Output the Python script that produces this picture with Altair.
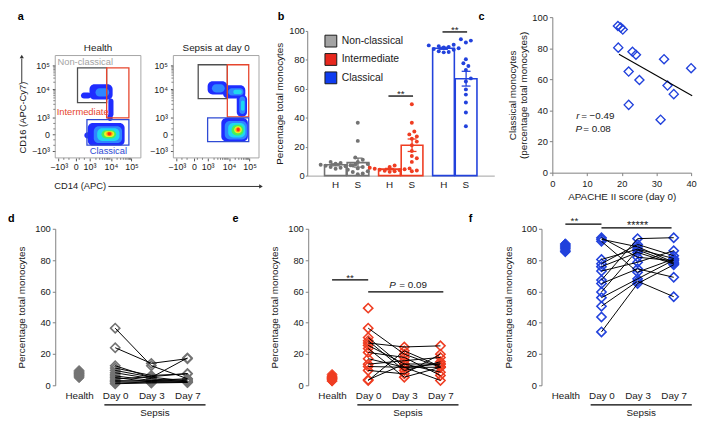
import json
import math
import altair as alt
import pandas as pd

FONT = "Liberation Sans"
TXT = "#1a1a1a"
AXC = "#808080"
GRAY = "#737373"
RED = "#ef3d22"
BLUE = "#2242dc"

groups = ["Non-classical", "Intermediate", "Classical"]
group_colors = [GRAY, RED, BLUE]
legend_colors = ["#a3a3a3", "#e8281e", "#0f3cf0"]

# ---------------- panel a (flow cytometry, biexponential display units 0-100)
flow_tick_labels = ["−10³", "0", "10³", "10⁴", "10⁵"]
flow_x_ticks = [4, 24, 40, 65, 89]
flow_y_ticks = [7, 23, 39, 67, 90]
density_colors = ["#1f2dff", "#2f86ff", "#1fd8f0", "#46f05a", "#eef222", "#ff9a12", "#ff2b12"]
# (density level, x1, x2, y1, y2)
health_blobs = [
    (0, 30, 42, 58, 64), (0, 40, 67, 57, 72), (0, 62, 68, 40, 58), (0, 61, 67, 36, 43),
    (1, 47, 63, 60, 68),
    (0, 38, 81, 12, 34), (0, 34, 41, 19, 25), (1, 45, 78, 14.5, 31), (2, 49, 75, 16.5, 29),
    (3, 54, 71, 19, 27), (4, 57, 69, 20.5, 26), (5, 59.5, 67, 21.5, 25.5), (6, 61, 65.5, 22, 25),
]
sepsis_blobs = [
    (0, 40, 63, 62, 75), (0, 58, 84, 58, 71), (0, 74, 86, 40, 62),
    (1, 45, 60, 64, 72), (1, 64, 82, 61, 68), (1, 77, 84, 43, 60),
    (2, 70, 80, 62.5, 66.5), (2, 79, 83, 46, 56),
    (0, 56, 87, 16, 39), (1, 60, 86, 18, 36), (2, 64, 84, 20, 34), (3, 68, 82, 22, 32.5),
    (4, 71, 80, 24, 31), (5, 72.5, 78.5, 25, 30), (6, 74, 77.5, 26, 29.5),
]
# gate rectangles (x1, x2, y1, y2) for Non-classical, Intermediate, Classical
health_gates = [(26, 60, 54, 88), (60, 86, 39, 88), (37, 86, 12.5, 37.5)]
sepsis_gates = [(29, 63, 58, 91), (63, 88, 40, 91), (40, 88, 16, 39)]
gate_colors = ["#4f4f4f", "#e6452d", "#2f4bd4"]
gate_label_pos = [(35, 94), (32, 45), (62, 7)]
gate_label_colors = ["#a3a3a3", "#e6452d", "#2f4bd4"]

# ---------------- panel b
health_nc = [9.5, 8.8, 8.2, 7.8, 7.5, 7.2, 6.8, 6.4, 6.0, 5.5, 4.8]
health_int = [7.0, 6.0, 5.5, 5.0, 4.7, 4.4, 4.1, 3.8, 3.4, 3.0, 2.6]
health_cl = [90.5, 90.0, 89.5, 89.0, 88.5, 88.0, 87.5, 87.0, 86.0, 85.5, 85.2]
sepsis_nc_d0 = [36.5, 24, 12.5, 11, 9.5, 8, 7, 6, 5, 4, 3, 2.5, 1.5, 1]
sepsis_int_d0 = [49.3, 36.5, 30.5, 28.5, 27, 25.5, 23.5, 21, 17, 13.5, 12, 9.5, 3.5, 3]
sepsis_cl_d0 = [94.3, 93.3, 92, 80.4, 77.7, 75.8, 73, 67.2, 65, 59.6, 56, 50.5, 43.6, 34.1]
bar_mean_h = [7.5, 4.5, 88.0]
bar_mean_s = [9.0, 21.0, 67.0]
bar_sem_h = [0.7, 0.5, 0.7]
bar_sem_s = [3.1, 4.3, 5.1]
sig_b_groups = ["Intermediate", "Classical"]
sig_b_y = [55.0, 99.3]

# ---------------- panel c
apache = [18.9, 19.7, 20.3, 19.0, 23.1, 24.1, 32.2, 40.0, 22.0, 25.1, 33.2, 35.0, 22.0, 31.2]
fit_x = [19.2, 40.3]
fit_y = [76.2, 49.5]

# ---------------- panels d, e, f (per patient: day 0, day 3, day 7)
days = ["Health", "Day 0", "Day 3", "Day 7"]
nc_d3 = [12.5, 14, 5, 6.3, 5.2, 4.2, None, 3.1, 2.1, 5.5, 2.5, 3.0, 2.0, 1.5]
nc_d7 = [4.2, 17, 17.5, 7.3, 2.7, 2.1, None, 4.2, 2.1, 7.5, 2.7, 3.5, 2.0, 1.8]
int_d3 = [None, 19.9, 11.5, 9.4, 24.5, 13.6, 5.2, 17.8, 11.5, 15.7, 11.5, 7.3, 13.6, 22]
int_d7 = [None, 11.5, 13.6, 15, 25.2, 8.4, 11.5, 6.3, 3.1, 17.8, 11.5, 19.9, 13.6, 12]
cl_d3 = [81.8, 88.5, 72.3, 87, 90, 84.9, 78.6, 93.7, 74.4, 86.5, 68, 66.5, None, 65]
cl_d7 = [79.6, 78.6, 80.7, 81, 82.8, 77.5, 86, 94.3, 69, 78, 80, 56.6, None, 77]

RES = dict(fill="independent", stroke="independent", color="independent")


def lbl_expr(positions):
    parts = " : ".join(f"datum.value == {p} ? '{l}'" for p, l in zip(positions, flow_tick_labels))
    return parts + " : ''"


def minor_positions(ticks):
    # linear part between -10^3 and 10^3, log decades above
    pos = [ticks[0] + (ticks[2] - ticks[0]) * k / 6 for k in (1, 2, 4, 5)]
    for lo, hi in ((ticks[2], ticks[3]), (ticks[3], ticks[4])):
        pos += [lo + (hi - lo) * math.log10(k) for k in range(2, 10)]
    return pos


def letter(ch, dx, dy):
    return alt.Chart(pd.DataFrame({"t": [ch]})).mark_text(
        align="left", baseline="top", fontWeight="bold", fontSize=11, color="black"
    ).encode(x=alt.value(dx), y=alt.value(dy), text="t:N")


def vtext(t, x, y, **kw):
    return alt.Chart(pd.DataFrame({"t": [t]})).mark_text(**kw).encode(
        x=alt.value(x), y=alt.value(y), text="t:N")


# ================= panel a
def flow_panel(blobs, gates, title, width, annotate):
    xs = alt.Scale(domain=[0, 100], range=[0, 87])
    ys = alt.Scale(domain=[0, 100], range=[143, 39])
    xax = alt.Axis(values=flow_x_ticks, labelExpr=lbl_expr(flow_x_ticks), title=None,
                   domain=False, tickSize=3, tickColor="#555", labelPadding=2, labelFontSize=9)
    yax = alt.Axis(values=flow_y_ticks, labelExpr=lbl_expr(flow_y_ticks), title=None,
                   domain=False, tickSize=3, tickColor="#555", labelPadding=3, labelFontSize=9)
    X = lambda f: alt.X(f, type="quantitative", scale=xs, axis=xax)
    Y = lambda f: alt.Y(f, type="quantitative", scale=ys, axis=yax)

    dens = pd.DataFrame(blobs, columns=["lvl", "x1", "x2", "y1", "y2"]).sort_values("lvl", kind="stable")
    layers = [alt.Chart(dens).mark_rect(cornerRadius=5).encode(
        x=X("x1"), x2="x2", y=Y("y1"), y2="y2",
        fill=alt.Fill("lvl:O", scale=alt.Scale(domain=list(range(7)), range=density_colors), legend=None))]

    g = pd.DataFrame([(n,) + t for n, t in zip(groups, gates)], columns=["gate", "x1", "x2", "y1", "y2"])
    layers.append(alt.Chart(g).mark_rect(fillOpacity=0, strokeWidth=1.3).encode(
        x=X("x1"), x2="x2", y=Y("y1"), y2="y2",
        stroke=alt.Stroke("gate:N", scale=alt.Scale(domain=groups, range=gate_colors), legend=None)))

    fr = pd.DataFrame({"x1": [0], "x2": [100], "y1": [0], "y2": [100]})
    layers.append(alt.Chart(fr).mark_rect(fillOpacity=0, stroke="#a5a5a5", strokeWidth=1).encode(
        x=X("x1"), x2="x2", y=Y("y1"), y2="y2"))

    # minor ticks of the biexponential axes
    mx = pd.DataFrame({"p": minor_positions(flow_x_ticks)})
    my = pd.DataFrame({"p": minor_positions(flow_y_ticks)})
    layers.append(alt.Chart(mx).mark_rule(color="#666", strokeWidth=0.8).encode(
        x=X("p"), y=alt.value(143), y2=alt.value(145)))
    layers.append(alt.Chart(my).mark_rule(color="#666", strokeWidth=0.8).encode(
        y=Y("p"), x=alt.value(-2), x2=alt.value(0)))

    layers.append(alt.Chart(pd.DataFrame({"x": [50], "y": [107], "t": [title]})).mark_text(
        fontSize=10, baseline="middle").encode(x=X("x"), y=Y("y"), text="t:N"))

    if annotate:
        gl = pd.DataFrame({"gate": groups, "x": [p[0] for p in gate_label_pos],
                           "y": [p[1] for p in gate_label_pos]})
        layers.append(alt.Chart(gl).mark_text(fontSize=9.5, baseline="middle").encode(
            x=X("x"), y=Y("y"), text="gate:N",
            color=alt.Color("gate:N", scale=alt.Scale(domain=groups, range=gate_label_colors), legend=None)))
        layers.append(vtext("CD14 (APC)", -1, 172, align="left", baseline="middle", fontSize=9.5))
        layers.append(alt.Chart(pd.DataFrame({"a": [0]})).mark_rule(color="#333", strokeWidth=1).encode(
            x=alt.value(54), x2=alt.value(208), y=alt.value(172)))
        layers.append(alt.Chart(pd.DataFrame({"a": [0]})).mark_point(
            shape="triangle-right", filled=True, size=18, color="#333", opacity=1).encode(
            x=alt.value(209), y=alt.value(172)))
        layers.append(vtext("CD16 (APC-Cy7)", -33, 102, angle=270, align="center",
                            baseline="middle", fontSize=9.5))
        layers.append(alt.Chart(pd.DataFrame({"a": [0]})).mark_rule(color="#333", strokeWidth=1).encode(
            x=alt.value(-34), y=alt.value(67), y2=alt.value(42)))
        layers.append(alt.Chart(pd.DataFrame({"a": [0]})).mark_point(
            shape="triangle-up", filled=True, size=18, color="#333", opacity=1).encode(
            x=alt.value(-34), y=alt.value(40)))
        layers.append(letter("a", -38, -6))
    return alt.layer(*layers).resolve_scale(**RES).properties(width=width, height=143)


a1 = flow_panel(health_blobs, health_gates, "Health", 87, True)
a2 = flow_panel(sepsis_blobs, sepsis_gates, "Sepsis at day 0", 103, False)

# ================= panel b
B_W, B_H = 216, 161
b_range = [0, 190]
b_pi, b_po = 0.18, 0.32
b_step = b_range[1] / (3 - b_pi + 2 * b_po)
b_bw = b_step * (1 - b_pi)

bx = alt.Scale(domain=groups, range=b_range, paddingInner=b_pi, paddingOuter=b_po)
by = alt.Scale(domain=[0, 100], range=[B_H, 14])
bxax = alt.Axis(labels=False, ticks=False, title=None, domainColor="#a0a0a0")
byax = alt.Axis(values=[0, 20, 40, 60, 80, 100], title="Percentage total monocytes",
                tickSize=2, labelPadding=1, titlePadding=4)
BX = alt.X("group:N", scale=bx, axis=bxax, sort=groups)
BY = lambda f: alt.Y(f, type="quantitative", scale=by, axis=byax)
XO = alt.XOffset("hs:N", scale=alt.Scale(domain=["H", "S"], paddingInner=0.04))
stroke_scale = alt.Scale(domain=groups, range=group_colors)

bar_rows = []
for i, g in enumerate(groups):
    for hs, m, s in (("H", bar_mean_h[i], bar_sem_h[i]), ("S", bar_mean_s[i], bar_sem_s[i])):
        bar_rows.append({"group": g, "hs": hs, "mean": m, "lo": m - s, "hi": m + s})
df_bars = pd.DataFrame(bar_rows)
df_caps = pd.concat([df_bars.assign(v=df_bars["lo"]), df_bars.assign(v=df_bars["hi"])])


def swarm(vals, px_per_unit=1.47, d=4.6):
    placed, res = [], [0.0] * len(vals)
    cands = [0] + [s * k for k in range(1, 12) for s in (1, -1)]
    for i in sorted(range(len(vals)), key=lambda k: vals[k]):
        y = vals[i] * px_per_unit
        for c in cands:
            x = c * d * 0.55
            if all((x - px) ** 2 + (y - py) ** 2 >= d * d for px, py in placed):
                break
        placed.append((x, y))
        res[i] = x
    return res


dot_rows = []
for g, hv, sv in zip(groups, [health_nc, health_int, health_cl], [sepsis_nc_d0, sepsis_int_d0, sepsis_cl_d0]):
    for hs, vals, c in (("H", hv, -0.5), ("S", sv, 0.5)):
        for v, o in zip(vals, swarm(vals)):
            dot_rows.append({"group": g, "subset": g, "val": v, "off": c + o / (b_bw / 2)})
df_dots = pd.DataFrame(dot_rows)

b_bars = alt.Chart(df_bars).mark_bar(fill="white", strokeWidth=1.6).encode(
    x=BX, xOffset=XO, y=BY("mean"), stroke=alt.Stroke("group:N", scale=stroke_scale, legend=None))
b_err = alt.Chart(df_bars).mark_rule(strokeWidth=1.3).encode(
    x=BX, xOffset=XO, y=BY("lo"), y2="hi", stroke=alt.Stroke("group:N", scale=stroke_scale, legend=None))
b_caps = alt.Chart(df_caps).mark_tick(orient="horizontal", size=9, thickness=1.3, opacity=1).encode(
    x=BX, xOffset=XO, y=BY("v"), color=alt.Color("group:N", scale=stroke_scale, legend=None))
b_hs = alt.Chart(df_bars.assign(y=-6.5)).mark_text(fontSize=10, baseline="middle").encode(
    x=BX, xOffset=XO, y=BY("y"), text="hs:N")
b_dots = alt.Chart(df_dots).mark_circle(size=16, opacity=1).encode(
    x=BX, xOffset=alt.XOffset("off:Q", scale=alt.Scale(domain=[-1, 1], range=[0, b_bw])),
    y=BY("val"), fill=alt.Fill("subset:N", scale=alt.Scale(domain=groups, range=group_colors), legend=None))

# legend (drawn through its own scale, entries = the three monocyte subsets)
df_leg = pd.DataFrame({"subset": groups, "row": list(range(len(groups)))})
leg_y = alt.Scale(domain=[-0.5, 2.5], range=[15, 71])
b_leg_sym = alt.Chart(df_leg).mark_square(size=144, opacity=1, stroke="#1a1a1a", strokeWidth=1).encode(
    x=alt.value(24), y=alt.Y("row:Q", scale=leg_y, axis=None),
    fill=alt.Fill("subset:N", scale=alt.Scale(domain=groups, range=legend_colors), legend=None))
b_leg_txt = alt.Chart(df_leg).mark_text(align="left", baseline="middle", fontSize=10.5).encode(
    x=alt.value(35), y=alt.Y("row:Q", scale=leg_y, axis=None), text="subset:N")

df_sig_b = pd.DataFrame({"group": sig_b_groups, "y": sig_b_y, "t": ["**"] * len(sig_b_y)})
b_sig = alt.Chart(df_sig_b).mark_tick(orient="horizontal", size=25, thickness=1.3, color="black", opacity=1).encode(
    x=BX, y=BY("y"))
b_sigt = alt.Chart(df_sig_b).mark_text(baseline="alphabetic", dy=1, fontSize=10).encode(
    x=BX, y=BY("y"), text="t:N")

b_main = alt.layer(b_bars, b_err, b_caps, b_dots, b_hs, b_sig, b_sigt, letter("b", -30, -6)).resolve_scale(
    xOffset="independent", fill="independent")
b_legend = alt.layer(b_leg_sym, b_leg_txt)
b = alt.layer(b_main, b_legend).resolve_scale(y="independent", fill="independent").properties(
    width=B_W, height=B_H)

# ================= panel c
cx = alt.Scale(domain=[0, 40])
cy = alt.Scale(domain=[0, 100])
cxax = alt.Axis(values=[0, 10, 20, 30, 40], title="APACHE II score (day 0)", tickSize=3,
                labelPadding=3, titlePadding=4)
cyax = alt.Axis(values=[0, 20, 40, 60, 80, 100],
                title=["Classical monocytes", "(percentage total monocytes)"],
                tickSize=3, labelPadding=2, titlePadding=3)
CX = lambda f: alt.X(f, type="quantitative", scale=cx, axis=cxax)
CY = lambda f: alt.Y(f, type="quantitative", scale=cy, axis=cyax)
df_c = pd.DataFrame({"x": apache, "y": sepsis_cl_d0})
c_pts = alt.Chart(df_c).mark_point(shape="diamond", size=85, filled=False, strokeWidth=1.4,
                                   color=BLUE, opacity=1).encode(x=CX("x"), y=CY("y"))
c_fit = alt.Chart(pd.DataFrame({"x": fit_x, "y": fit_y})).mark_line(color="black", strokeWidth=1.1).encode(
    x=CX("x"), y=CY("y"))
df_ct = pd.DataFrame({"x": [6.9, 8.3, 6.7, 8.9], "y": [34.5, 34.5, 26.3, 26.3],
                      "t": ["r", "= −0.49", "P", "= 0.08"], "it": [1, 0, 1, 0]})
c_it = alt.Chart(df_ct[df_ct.it == 1]).mark_text(align="left", baseline="alphabetic", fontSize=10,
                                                 fontStyle="italic").encode(x=CX("x"), y=CY("y"), text="t:N")
c_tx = alt.Chart(df_ct[df_ct.it == 0]).mark_text(align="left", baseline="alphabetic", fontSize=10).encode(
    x=CX("x"), y=CY("y"), text="t:N")
c = alt.layer(c_pts, c_fit, c_it, c_tx, letter("c", -75, -6)).properties(width=141, height=158)

# ================= panels d, e, f
STEP = 36.7
X0 = -0.66


def time_panel(ch, ldx, health, d0, d3, d7, color, width, sigs, stars, ptext=None):
    xs = alt.Scale(domain=[X0, X0 + width / STEP])
    ys = alt.Scale(domain=[0, 100])
    xax = alt.Axis(values=[0, 1, 2, 3], labelExpr=f"{json.dumps(days)}[datum.value]", domain=False,
                   ticks=False, title=None, labelPadding=5, labelFontSize=10)
    yax = alt.Axis(values=[0, 20, 40, 60, 80, 100], title="Percentage total monocytes",
                   tickSize=3, labelPadding=2, titlePadding=8)
    X = lambda f: alt.X(f, type="quantitative", scale=xs, axis=xax)
    Y = lambda f: alt.Y(f, type="quantitative", scale=ys, axis=yax)

    rows = []
    for pid, vals in enumerate(zip(d0, d3, d7)):
        for day, v in zip(days[1:], vals):
            if v is not None:
                rows.append({"pid": pid, "pos": days.index(day), "val": v})
    df_days = pd.DataFrame(rows)
    df_h = pd.DataFrame({"pos": [days.index("Health")] * len(health), "val": health})

    layers = [
        alt.Chart(df_h).mark_point(shape="diamond", filled=True, size=100, color=color, opacity=1,
                                   stroke=color, strokeWidth=1).encode(x=X("pos"), y=Y("val")),
        alt.Chart(df_days).mark_point(shape="diamond", filled=False, size=88, strokeWidth=1.6,
                                      color=color, opacity=1).encode(x=X("pos"), y=Y("val")),
        alt.Chart(df_days).mark_line(color="black", strokeWidth=1).encode(
            x=X("pos"), y=Y("val"), detail="pid:N", order="pos:Q"),
    ]
    df_br = pd.DataFrame({"x1": [0.7], "x2": [3.5], "y": [-12.5], "tx": [2.1], "ty": [-18], "t": ["Sepsis"]})
    layers.append(alt.Chart(df_br).mark_rule(color="black", strokeWidth=1.2).encode(
        x=X("x1"), x2="x2", y=Y("y")))
    layers.append(alt.Chart(df_br).mark_text(fontSize=10, baseline="middle").encode(
        x=X("tx"), y=Y("ty"), text="t:N"))
    if sigs:
        df_s = pd.DataFrame(sigs, columns=["x1", "x2", "y"])
        layers.append(alt.Chart(df_s).mark_rule(color="black", strokeWidth=1.3).encode(
            x=X("x1"), x2="x2", y=Y("y")))
        df_st = pd.DataFrame(stars, columns=["x", "y", "t", "fs"])
        for fs in sorted(set(df_st.fs)):
            layers.append(alt.Chart(df_st[df_st.fs == fs]).mark_text(
                baseline="alphabetic", dy=1, fontSize=fs).encode(x=X("x"), y=Y("y"), text="t:N"))
    if ptext:
        df_p = pd.DataFrame(ptext, columns=["x", "y", "t", "it"])
        layers.append(alt.Chart(df_p[df_p.it == 1]).mark_text(
            align="left", baseline="alphabetic", fontSize=10, fontStyle="italic").encode(
            x=X("x"), y=Y("y"), text="t:N"))
        layers.append(alt.Chart(df_p[df_p.it == 0]).mark_text(
            align="left", baseline="alphabetic", fontSize=10).encode(
            x=X("x"), y=Y("y"), text="t:N"))
    layers.append(letter(ch, ldx, -16))
    return alt.layer(*layers).properties(width=width, height=159)


d = time_panel("d", -48, health_nc, sepsis_nc_d0, nc_d3, nc_d7, GRAY, 181, [], [])
e = time_panel("e", -77, health_int, sepsis_int_d0, int_d3, int_d7, RED, 161,
               [(0, 1, 67.3), (1, 3.08, 59.7)], [(0.5, 67.3, "**", 10)],
               [(1.58, 62.0, "P", 1), (1.86, 62.0, "= 0.09", 0)])
f = time_panel("f", -74, health_cl, sepsis_cl_d0, cl_d3, cl_d7, BLUE, 150,
               [(0, 1, 103.0), (1, 2.94, 100.6)], [(0.25, 104.0, "**", 10), (2.0, 100.6, "*****", 11)])

top = alt.hconcat(a1, a2, b, c, spacing=33, bounds="flush").resolve_scale(**RES)
bottom = alt.hconcat(d, e, f, spacing=76, bounds="flush").resolve_scale(**RES)

chart = alt.vconcat(top, bottom, spacing=11).resolve_scale(**RES).properties(padding=0).configure(
    font=FONT).configure_view(stroke=None).configure_axis(
    labelFont=FONT, titleFont=FONT, labelFontSize=9.5, titleFontSize=10, labelColor=TXT,
    titleColor=TXT, titleFontWeight="normal", domainColor=AXC, tickColor=AXC, grid=False,
    labelFlush=False, labelOverlap=False).configure_text(font=FONT, color=TXT)

chart.save("out.html", embed_options={"renderer": "svg", "actions": False})
